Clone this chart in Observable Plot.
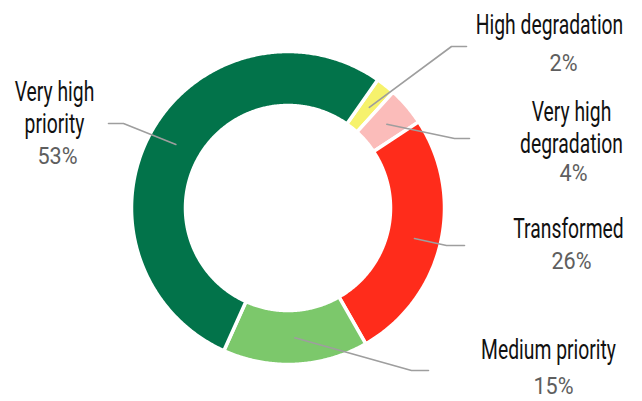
<!DOCTYPE html>
<html><head><meta charset="utf-8">
<script src="https://cdn.jsdelivr.net/npm/d3@7"></script>
<script src="https://cdn.jsdelivr.net/npm/@observablehq/plot@0.6"></script>
<style>body{margin:0;background:#fff} #chart svg{display:block}</style>
</head><body><div id="chart"></div>
<script>
// ---- data ----
const categories = ["High degradation", "Very high degradation", "Transformed", "Medium priority", "Very high priority"];
const nameLines = [["High degradation"], ["Very high", "degradation"], ["Transformed"], ["Medium priority"], ["Very high", "priority"]];
const values = [2, 4, 26, 15, 53];
const pctLabels = ["2%", "4%", "26%", "15%", "53%"];
const colors = ["#F6F26C", "#FBBCBA", "#FF2C1B", "#7CC86B", "#02734A"];

// ---- layout (pixels) ----
const W = 642, H = 401, CX = 288, CY = 208, K = 156.5, R0 = 0.655, R1 = 1;
const START_DEG = 35;
const leaderLayout = [
  {elbow: [451, 46], end: [466, 46]},
  {elbow: [454, 138], end: [469, 138]},
  {elbow: [446, 245], end: [464, 245]},
  {elbow: [411, 370], end: [428, 370]},
  {elbow: [123, 123], end: [108, 123]}
];
const textLayout = [
  {name: [549, 33], pct: [563, 70]},
  {name: [571, 120], pct: [573, 180]},
  {name: [568, 237], pct: [571, 268]},
  {name: [548, 358], pct: [553, 393]},
  {name: [54, 100], pct: [57, 163]}
];
const LINE_GAP = 32;
const NAME_FILL = "#111111", PCT_FILL = "#5e5e5e";
const NAME_SCALE = 0.69, PCT_SCALE = 0.9;
const ux = px => (px - CX) / K;
const uy = py => (CY - py) / K;

// ---- geometry from data ----
const rad = Math.PI / 180;
const pie = d3.pie().sort(null).value(d => d.value)
  .startAngle(START_DEG * rad).endAngle((START_DEG + 360) * rad);
const table = categories.map((c, i) => ({cat: c, value: values[i]}));
const arcs = pie(table);

const arcPts = [];
arcs.forEach(a => {
  const n = Math.max(2, Math.ceil((a.endAngle - a.startAngle) / (0.5 * rad)));
  for (let j = 0; j <= n; j++) {
    const t = a.startAngle + (a.endAngle - a.startAngle) * j / n;
    arcPts.push({cat: a.data.cat,
      x1: R0 * Math.sin(t), y1: R0 * Math.cos(t),
      x2: R1 * Math.sin(t), y2: R1 * Math.cos(t)});
  }
});

const leaderPts = [];
arcs.forEach((a, i) => {
  const m = (a.startAngle + a.endAngle) / 2, r = (R0 + R1) / 2;
  const L = leaderLayout[i];
  leaderPts.push({cat: a.data.cat, x: r * Math.sin(m), y: r * Math.cos(m)});
  leaderPts.push({cat: a.data.cat, x: ux(L.elbow[0]), y: uy(L.elbow[1])});
  leaderPts.push({cat: a.data.cat, x: ux(L.end[0]), y: uy(L.end[1])});
});

const nameRows = [];
const pctRows = [];
categories.forEach((c, i) => {
  const T = textLayout[i];
  nameLines[i].forEach((s, k) => nameRows.push({text: s, x: ux(T.name[0]), y: uy(T.name[1] + k * LINE_GAP)}));
  pctRows.push({text: pctLabels[i], x: ux(T.pct[0]), y: uy(T.pct[1])});
});

const chart = Plot.plot({
  width: W, height: H,
  margin: 0,
  x: {domain: [ux(0), ux(W)], range: [0, W], axis: null},
  y: {domain: [uy(H), uy(0)], range: [H, 0], axis: null},
  color: {domain: categories, range: colors},
  style: {background: "#fff"},
  marks: [
    Plot.area(arcPts, {x1: "x1", y1: "y1", x2: "x2", y2: "y2", z: "cat", fill: "cat", stroke: "#fff", strokeWidth: 3.5}),
    Plot.line(leaderPts, {x: "x", y: "y", z: "cat", stroke: "#9E9E9E", strokeWidth: 1.6}),
    Plot.text(nameRows, {x: "x", y: "y", text: "text", textAnchor: "middle", lineAnchor: "bottom",
      fontSize: 28, fontFamily: "Roboto", fill: NAME_FILL}),
    Plot.text(pctRows, {x: "x", y: "y", text: "text", textAnchor: "middle", lineAnchor: "bottom",
      fontSize: 24, fontFamily: "Roboto", fontWeight: 400, fill: PCT_FILL})
  ]
});
document.getElementById("chart").appendChild(chart);

// condense label glyphs horizontally around their anchor
chart.querySelectorAll("text").forEach(el => {
  const g = el.closest("g");
  const f = ((g && g.getAttribute("fill")) || el.getAttribute("fill") || "").toLowerCase();
  const s = f === NAME_FILL.toLowerCase() ? NAME_SCALE : f === PCT_FILL.toLowerCase() ? PCT_SCALE : null;
  if (s == null) return;
  const t = el.getAttribute("transform");
  if (t && /translate/.test(t)) {
    el.setAttribute("transform", t + ` scale(${s},1)`);
  } else {
    const x = +(el.getAttribute("x") || 0), y = +(el.getAttribute("y") || 0);
    el.setAttribute("transform", `translate(${x},${y}) scale(${s},1) translate(${-x},${-y})` + (t ? " " + t : ""));
  }
});
</script>
</body></html>
